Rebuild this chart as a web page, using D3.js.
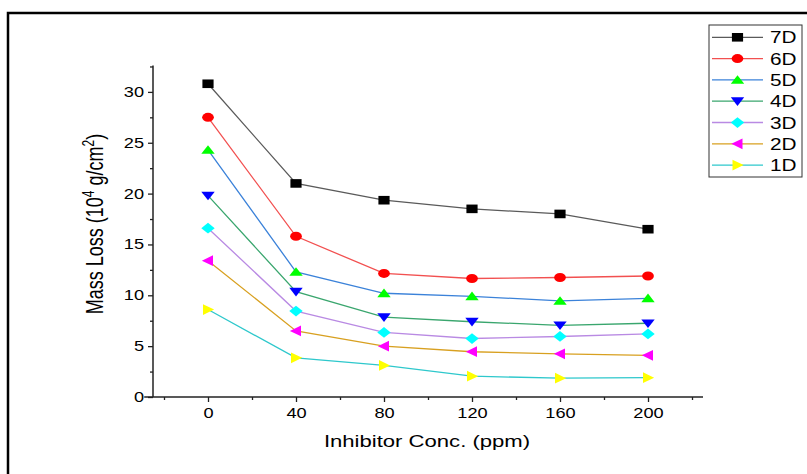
<!DOCTYPE html>
<html>
<head>
<meta charset="utf-8">
<script src="https://cdn.jsdelivr.net/npm/d3@7"></script>
<style>
  html, body { margin: 0; padding: 0; background: #fff; }
  svg { display: block; font-family: Arial, "Liberation Sans", sans-serif; }
</style>
</head>
<body>
<svg id="chart" width="807" height="474"></svg>
<script>
// Inhibitor concentrations (ppm)
const concentrations = [0, 40, 80, 120, 160, 200];

// Mass loss (10^4 g/cm^2) for each immersion period
const series7D = [30.8, 21.0, 19.35, 18.5, 18.0, 16.5];
const series6D = [27.5, 15.8, 12.15, 11.65, 11.75, 11.9];
const series5D = [24.3, 12.3, 10.2, 9.9, 9.45, 9.7];
const series4D = [19.8, 10.35, 7.85, 7.4, 7.05, 7.25];
const series3D = [16.6, 8.45, 6.35, 5.75, 5.95, 6.2];
const series2D = [13.4, 6.5, 5.0, 4.45, 4.25, 4.1];
const series1D = [8.6, 3.85, 3.1, 2.05, 1.85, 1.9];

const seriesNames = ["7D", "6D", "5D", "4D", "3D", "2D", "1D"];
const seriesValues = [series7D, series6D, series5D, series4D, series3D, series2D, series1D];

const xTicks = [0, 40, 80, 120, 160, 200];
const xMinorTicks = [-20, 20, 60, 100, 140, 180, 220];
const yTicks = [0, 5, 10, 15, 20, 25, 30];
const yMinorTicks = [2.5, 7.5, 12.5, 17.5, 22.5, 27.5, 32.5];

// Styling per series: line colour, marker fill, marker shape
const lineColors = ["#5a5a5a", "#f25050", "#3b82d9", "#3aa66e", "#b98ae3", "#d8a020", "#2ec8cc"];
const markerFills = ["#000000", "#ff0000", "#00ff00", "#0000ff", "#00ffff", "#ff00ff", "#ffff00"];
const markerShapes = ["square", "circle", "triUp", "triDown", "diamond", "triLeft", "triRight"];

// The figure is laid out with a horizontal stretch applied to glyphs and markers
const stretch = 1.3;

const svg = d3.select("#chart");

// Outer frame
svg.append("rect")
  .attr("x", 8).attr("y", 13)
  .attr("width", 830).attr("height", 500)
  .attr("fill", "none").attr("stroke", "#000").attr("stroke-width", 2.5);

const x = d3.scaleLinear().domain([0, 200]).range([208, 648]);
const y = d3.scaleLinear().domain([0, 30]).range([397, 91.9]);

const xLo = -29, xHi = 225, yHi = 32.6;
const axisColor = "#222";

// Stretch each tick label horizontally about its own anchor point
function stretchLabels(sel) {
  sel.each(function () {
    const t = d3.select(this);
    const tx = +t.attr("x") || 0;
    const prev = t.attr("transform") || "";
    t.attr("transform", `${prev} translate(${tx},0) scale(${stretch},1) translate(${-tx},0)`);
  });
}

// X axis
svg.append("line")
  .attr("x1", x(xLo)).attr("x2", x(xHi))
  .attr("y1", y(0)).attr("y2", y(0))
  .attr("stroke", axisColor).attr("stroke-width", 1.5);
const xAxis = d3.axisBottom(x).tickValues(xTicks).tickSize(5).tickPadding(6);
const gxa = svg.append("g").attr("transform", `translate(0,${y(0)})`).call(xAxis);
gxa.select(".domain").remove();
gxa.selectAll("text").attr("font-size", 14).attr("fill", "#000")
  .attr("font-family", "Arial, 'Liberation Sans', sans-serif")
  .attr("transform", `scale(${stretch},1)`);
gxa.selectAll("line").attr("stroke", axisColor).attr("stroke-width", 1.3);
const xMinor = d3.axisBottom(x).tickValues(xMinorTicks).tickSize(3).tickFormat("");
const gxm = svg.append("g").attr("transform", `translate(0,${y(0)})`).call(xMinor);
gxm.select(".domain").remove();
gxm.selectAll("line").attr("stroke", axisColor).attr("stroke-width", 1.3);

// Y axis
svg.append("line")
  .attr("x1", 153).attr("x2", 153)
  .attr("y1", y(0)).attr("y2", y(yHi))
  .attr("stroke", axisColor).attr("stroke-width", 1.5);
const yAxis = d3.axisLeft(y).tickValues(yTicks).tickSize(5).tickPadding(4);
const gya = svg.append("g").attr("transform", "translate(153,0)").call(yAxis);
gya.select(".domain").remove();
gya.selectAll("text").attr("font-size", 14).attr("fill", "#000")
  .attr("font-family", "Arial, 'Liberation Sans', sans-serif")
  .call(stretchLabels);
gya.selectAll("line").attr("stroke", axisColor).attr("stroke-width", 1.3);
const yMinor = d3.axisLeft(y).tickValues(yMinorTicks).tickSize(3).tickFormat("");
const gym = svg.append("g").attr("transform", "translate(153,0)").call(yMinor);
gym.select(".domain").remove();
gym.selectAll("line").attr("stroke", axisColor).attr("stroke-width", 1.3);

// Axis titles
svg.append("text")
  .attr("transform", `translate(427,447) scale(${stretch},1)`)
  .attr("text-anchor", "middle")
  .attr("font-size", 17)
  .text("Inhibitor Conc. (ppm)");

const yTitle = svg.append("text")
  .attr("transform", `translate(103,224) scale(${stretch},1) rotate(-90)`)
  .attr("text-anchor", "middle")
  .attr("font-size", 18);
yTitle.append("tspan").text("Mass Loss (10");
yTitle.append("tspan").attr("dy", -7).attr("font-size", 12).text("4");
yTitle.append("tspan").attr("dy", 7).text(" g/cm");
yTitle.append("tspan").attr("dy", -7).attr("font-size", 12).text("2");
yTitle.append("tspan").attr("dy", 7).text(")");

// Marker path generator
function markerPath(shape, s) {
  switch (shape) {
    case "square": return `M${-s},${-s}H${s}V${s}H${-s}Z`;
    case "circle": return d3.symbol().type(d3.symbolCircle).size(Math.PI * s * s * 1.1)();
    case "triUp": return `M0,${-s * 1.1}L${s * 1.2},${s * 0.9}L${-s * 1.2},${s * 0.9}Z`;
    case "triDown": return `M0,${s * 1.1}L${s * 1.2},${-s * 0.9}L${-s * 1.2},${-s * 0.9}Z`;
    case "triLeft": return `M${-s * 1.1},0L${s * 0.9},${-s * 1.25}L${s * 0.9},${s * 1.25}Z`;
    case "triRight": return `M${s * 1.1},0L${-s * 0.9},${-s * 1.25}L${-s * 0.9},${s * 1.25}Z`;
    case "diamond": return `M0,${-s * 1.25}L${s * 1.2},0L0,${s * 1.25}L${-s * 1.2},0Z`;
  }
}

const line = d3.line().x(d => x(d[0])).y(d => y(d[1]));
const ms = 4.3;

// Series lines (drawn first), then markers
seriesValues.forEach((vals, i) => {
  const pts = concentrations.map((c, j) => [c, vals[j]]);
  svg.append("path")
    .datum(pts)
    .attr("d", line)
    .attr("fill", "none")
    .attr("stroke", lineColors[i])
    .attr("stroke-width", 1.3);
});
seriesValues.forEach((vals, i) => {
  const pts = concentrations.map((c, j) => [c, vals[j]]);
  svg.append("g").selectAll("path")
    .data(pts)
    .join("path")
    .attr("transform", d => `translate(${x(d[0])},${y(d[1])}) scale(${stretch},1)`)
    .attr("d", markerPath(markerShapes[i], ms))
    .attr("fill", markerFills[i]);
});

// Legend
const legend = svg.append("g");
legend.append("rect")
  .attr("x", 709).attr("y", 25)
  .attr("width", 93).attr("height", 152)
  .attr("fill", "#fff").attr("stroke", "#333").attr("stroke-width", 1);
seriesNames.forEach((name, i) => {
  const cy = 37.3 + i * 21.3;
  legend.append("line")
    .attr("x1", 712).attr("x2", 763)
    .attr("y1", cy).attr("y2", cy)
    .attr("stroke", lineColors[i]).attr("stroke-width", 1.3);
  legend.append("path")
    .attr("transform", `translate(737.5,${cy}) scale(${stretch},1)`)
    .attr("d", markerPath(markerShapes[i], ms))
    .attr("fill", markerFills[i]);
  legend.append("text")
    .attr("transform", `translate(770,${cy + 6}) scale(${stretch},1)`)
    .attr("font-size", 16)
    .text(name);
});
</script>
</body>
</html>
